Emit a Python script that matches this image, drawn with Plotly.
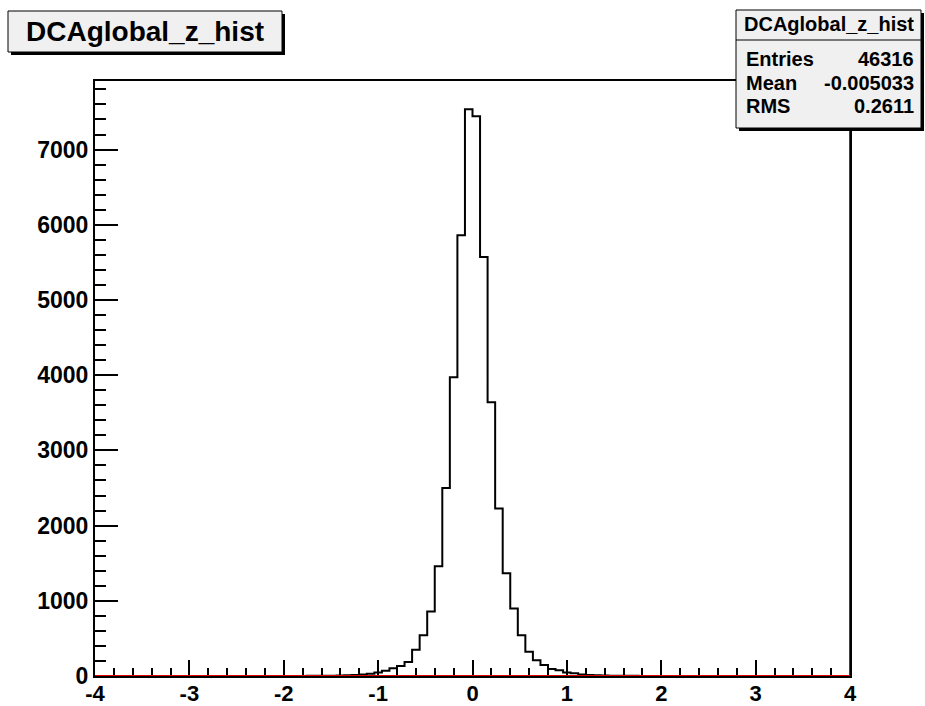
import numpy as np
import plotly.graph_objects as go

# ---------------- data ----------------
hist_name = "DCAglobal_z_hist"
x_min, x_max, n_bins = -4.0, 4.0, 100
counts = [
    0, 0, 0, 0, 0, 0, 0, 0, 0, 0,
    0, 0, 0, 0, 0, 0, 0, 0, 0, 0,
    0, 0, 0, 0, 0, 0, 1, 1, 2, 2,
    3, 4, 6, 9, 13, 20, 31, 46, 69, 104,
    132, 186, 350, 542, 858, 1460, 2501, 3972, 5862, 7535,
    7442, 5572, 3641, 2227, 1367, 897, 542, 322, 208, 146,
    92, 75, 48, 35, 20, 13, 9, 6, 4, 3,
    2, 2, 1, 1, 0, 0, 0, 0, 0, 0,
    0, 0, 0, 0, 0, 0, 0, 0, 0, 0,
    0, 0, 0, 0, 0, 0, 0, 0, 0, 0,
]
stats_labels = ["Entries", "Mean", "RMS"]
stats_values = ["46316", "-0.005033", "0.2611"]
x_tick_vals = [-4, -3, -2, -1, 0, 1, 2, 3, 4]
x_tick_text = ["-4", "-3", "-2", "-1", "0", "1", "2", "3", "4"]
y_tick_vals = [0, 1000, 2000, 3000, 4000, 5000, 6000, 7000]
y_tick_text = ["0", "1000", "2000", "3000", "4000", "5000", "6000", "7000"]

# ---------------- layout geometry (page pixels) ----------------
W, H = 925, 706
L, R, T, B = 95, 850, 81, 676
y_top = 1.05 * max(counts)

def px(x):
    return (x - L) / (R - L)

def py(y):
    return (B - y) / (B - T)

FONT = "Liberation Sans, Arial, Helvetica, sans-serif"

edges = np.linspace(x_min, x_max, n_bins + 1)
step_y = list(counts) + [counts[-1]]

fig = go.Figure()
fig.add_trace(go.Scatter(x=edges, y=step_y, mode="lines", line_shape="hv",
                         line=dict(color="black", width=2), showlegend=False))
# red line along bottom and right edge
fig.add_trace(go.Scatter(x=[x_min, x_max, x_max], y=[0, 0, y_top], mode="lines",
                         line=dict(color="#e00000", width=2), hoverinfo="skip", showlegend=False))

axis_common = dict(showgrid=False, zeroline=False, showline=True, mirror=True,
                   linecolor="black", linewidth=2, ticks="inside", tickcolor="black",
                   tickwidth=1.5, layer="below traces", automargin=False)

fig.update_layout(
    width=W, height=H,
    margin=dict(l=L, r=W - R, t=T, b=H - B, pad=0),
    paper_bgcolor="white", plot_bgcolor="white",
    xaxis=dict(range=[x_min, x_max], tickvals=x_tick_vals, ticktext=x_tick_text,
               ticklen=16, ticklabelstandoff=-3,
               minor=dict(dtick=0.2, ticklen=8, ticks="inside", tickcolor="black", tickwidth=1.5),
               tickfont=dict(family=FONT, size=22, color="black", weight="bold"),
               **axis_common),
    yaxis=dict(range=[0, y_top], tickvals=y_tick_vals, ticktext=y_tick_text,
               ticklen=23, minor=dict(dtick=200, ticklen=11, ticks="inside", tickcolor="black", tickwidth=1.5),
               tickfont=dict(family=FONT, size=23, color="black", weight="bold"),
               **axis_common),
)

shapes = []
def rect(x0, y0, x1, y1, fill, lw=1):
    shapes.append(dict(type="rect", xref="paper", yref="paper",
                       x0=px(x0), x1=px(x1), y0=py(y1), y1=py(y0),
                       fillcolor=fill, line=dict(color="black", width=lw), layer="above"))

# title box
rect(11, 14, 285, 55, "black", 0)
rect(8, 11, 282, 52, "#f0f0f0", 1)
# stats box
rect(739, 13, 924, 131, "black", 0)
rect(736, 10, 921, 128, "#f0f0f0", 1)
shapes.append(dict(type="line", xref="paper", yref="paper", x0=px(736), x1=px(921),
                   y0=py(40), y1=py(40), line=dict(color="black", width=1), layer="above"))
fig.update_layout(shapes=shapes)

ann = []
ann.append(dict(text=hist_name, x=px(145), y=py(31.5), xref="paper", yref="paper",
                showarrow=False, xanchor="center", yanchor="middle",
                font=dict(family=FONT, size=28, color="black", weight="bold")))
ann.append(dict(text=hist_name, x=px(829), y=py(24), xref="paper", yref="paper",
                showarrow=False, xanchor="center", yanchor="middle",
                font=dict(family=FONT, size=20, color="black", weight="bold")))
row_y = [59, 83, 106]
for lab, val, yy in zip(stats_labels, stats_values, row_y):
    ann.append(dict(text=lab, x=px(744), y=py(yy), xref="paper", yref="paper",
                    showarrow=False, xanchor="left", yanchor="middle",
                    font=dict(family=FONT, size=20, color="black", weight="bold")))
    ann.append(dict(text=val, x=px(916), y=py(yy), xref="paper", yref="paper",
                    showarrow=False, xanchor="right", yanchor="middle",
                    font=dict(family=FONT, size=20, color="black", weight="bold")))
fig.update_layout(annotations=ann)

fig.write_html("out.html", config={"displayModeBar": False},
               post_script="document.body.style.margin='0';document.body.style.overflow='hidden';")
